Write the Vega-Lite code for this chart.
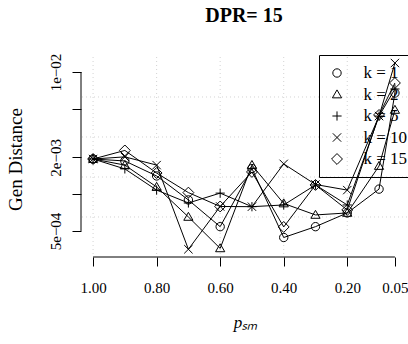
{
  "$schema": "https://vega.github.io/schema/vega-lite/v6.json",
  "width": 326,
  "height": 200,
  "autosize": {"type": "none"},
  "padding": {"left": 81, "top": 57, "right": 1, "bottom": 87},
  "background": "white",
  "title": {"text": "DPR= 15", "font": "Liberation Serif", "fontSize": 20, "fontWeight": "bold", "color": "black", "anchor": "middle", "frame": "group", "baseline": "alphabetic", "offset": 11},
  "config": {
    "view": {"stroke": null},
    "font": "Liberation Serif",
    "axis": {"domain": false, "grid": false, "ticks": true, "tickSize": 9, "tickColor": "black", "tickWidth": 1,
      "labelFont": "Liberation Serif", "labelFontSize": 15, "labelColor": "black", "labelOverlap": false, "labelFlush": false,
      "titleFont": "Liberation Serif", "titleFontSize": 19, "titleFontWeight": "normal", "titleColor": "black"},
    "axisX": {"labelBaseline": "alphabetic", "labelPadding": 26, "titleFontStyle": "italic", "titleFontSize": 17, "titleX": 164, "titleY": 70, "titleBaseline": "alphabetic", "titleAlign": "center"},
    "axisY": {"labelAngle": -90, "labelAlign": "center", "labelBaseline": "alphabetic", "labelPadding": 12, "titleAngle": -90, "titleX": -60, "titleY": 102, "titleBaseline": "alphabetic", "titleAlign": "center"}
  },
  "datasets": {
    "series": [
      {"p": 1, "k": 1, "d": 0.00194}, {"p": 0.9, "k": 1, "d": 0.00187}, {"p": 0.8, "k": 1, "d": 0.00141}, {"p": 0.7, "k": 1, "d": 0.000897}, {"p": 0.6, "k": 1, "d": 0.000542}, {"p": 0.5, "k": 1, "d": 0.00162}, {"p": 0.4, "k": 1, "d": 0.000442}, {"p": 0.3, "k": 1, "d": 0.000542}, {"p": 0.2, "k": 1, "d": 0.000702}, {"p": 0.1, "k": 1, "d": 0.0011}, {"p": 0.05, "k": 1, "d": 0.00673},
      {"p": 1, "k": 2, "d": 0.00194}, {"p": 0.9, "k": 2, "d": 0.00173}, {"p": 0.8, "k": 2, "d": 0.001146}, {"p": 0.7, "k": 2, "d": 0.000651}, {"p": 0.6, "k": 2, "d": 0.00036}, {"p": 0.5, "k": 2, "d": 0.00173}, {"p": 0.4, "k": 2, "d": 0.000839}, {"p": 0.3, "k": 2, "d": 0.000676}, {"p": 0.2, "k": 2, "d": 0.000702}, {"p": 0.1, "k": 2, "d": 0.0017}, {"p": 0.05, "k": 2, "d": 0.00489},
      {"p": 1, "k": 5, "d": 0.00194}, {"p": 0.9, "k": 5, "d": 0.00161}, {"p": 0.8, "k": 5, "d": 0.00108}, {"p": 0.7, "k": 5, "d": 0.000847}, {"p": 0.6, "k": 5, "d": 0.00102}, {"p": 0.5, "k": 5, "d": 0.00079}, {"p": 0.4, "k": 5, "d": 0.000816}, {"p": 0.3, "k": 5, "d": 0.00119}, {"p": 0.2, "k": 5, "d": 0.000816}, {"p": 0.1, "k": 5, "d": 0.00436}, {"p": 0.05, "k": 5, "d": 0.00726},
      {"p": 1, "k": 10, "d": 0.00194}, {"p": 0.9, "k": 10, "d": 0.00202}, {"p": 0.8, "k": 10, "d": 0.00173}, {"p": 0.7, "k": 10, "d": 0.000354}, {"p": 0.6, "k": 10, "d": 0.000793}, {"p": 0.5, "k": 10, "d": 0.00079}, {"p": 0.4, "k": 10, "d": 0.00177}, {"p": 0.3, "k": 10, "d": 0.0012}, {"p": 0.2, "k": 10, "d": 0.00108}, {"p": 0.1, "k": 10, "d": 0.00436}, {"p": 0.05, "k": 10, "d": 0.01185},
      {"p": 1, "k": 15, "d": 0.00194}, {"p": 0.9, "k": 15, "d": 0.00228}, {"p": 0.8, "k": 15, "d": 0.00149}, {"p": 0.7, "k": 15, "d": 0.00103}, {"p": 0.6, "k": 15, "d": 0.000793}, {"p": 0.5, "k": 15, "d": 0.00152}, {"p": 0.4, "k": 15, "d": 0.000539}, {"p": 0.3, "k": 15, "d": 0.00119}, {"p": 0.2, "k": 15, "d": 0.000743}, {"p": 0.1, "k": 15, "d": 0.00445}, {"p": 0.05, "k": 15, "d": 0.00813}
    ],
    "ygrid": [{"g": 0.006244}, {"g": 0.002938}, {"g": 0.001382}, {"g": 0.0006507}],
    "xgrid": [{"v": 1}, {"v": 0.8}, {"v": 0.6}, {"v": 0.4}, {"v": 0.2}]
  },
  "layer": [
    {
      "data": {"name": "ygrid"},
      "mark": {"type": "rule", "color": "#d3d3d3", "strokeWidth": 1, "strokeDash": [1, 3]},
      "encoding": {
        "y": {"field": "g", "type": "quantitative", "scale": {"type": "log", "domain": [0.000306, 0.01327], "nice": false},
          "axis": {"title": "Gen Distance", "values": [0.0005, 0.001, 0.002, 0.005, 0.01],
            "labelExpr": "datum.value == 0.01 ? '1e−02' : datum.value == 0.002 ? '2e−03' : datum.value == 0.0005 ? '5e−04' : ''"}}
      }
    },
    {
      "data": {"name": "xgrid"},
      "mark": {"type": "rule", "color": "#d3d3d3", "strokeWidth": 1, "strokeDash": [1, 3]},
      "encoding": {
        "x": {"field": "v", "type": "quantitative", "scale": {"type": "linear", "domain": [0.012, 1.038], "reverse": true, "zero": false, "nice": false},
          "axis": {"title": "pₛₘ", "values": [1, 0.9, 0.8, 0.7, 0.6, 0.5, 0.4, 0.3, 0.2, 0.1, 0.05], "format": ".2f",
            "labelExpr": "indexof(['1.00','0.80','0.60','0.40','0.20','0.05'], datum.label) >= 0 ? datum.label : ''"}}
      }
    },
    {
      "data": {"values": [{}]},
      "mark": {"type": "rule", "color": "black", "strokeWidth": 1},
      "encoding": {
        "x": {"datum": 1, "type": "quantitative"},
        "x2": {"datum": 0.05},
        "y": {"datum": 0.000306, "type": "quantitative"}
      }
    },
    {
      "data": {"values": [{}]},
      "mark": {"type": "rule", "color": "black", "strokeWidth": 1},
      "encoding": {
        "x": {"datum": 1.038, "type": "quantitative"},
        "y": {"datum": 0.0005, "type": "quantitative"},
        "y2": {"datum": 0.01}
      }
    },
    {
      "data": {"name": "series"},
      "mark": {"type": "line", "color": "black", "strokeWidth": 1},
      "encoding": {
        "x": {"field": "p", "type": "quantitative"},
        "y": {"field": "d", "type": "quantitative"},
        "detail": {"field": "k", "type": "ordinal"}
      }
    },
    {
      "data": {"name": "series"},
      "mark": {"type": "point", "filled": false, "color": "black", "strokeWidth": 1, "size": 70, "opacity": 1},
      "encoding": {
        "x": {"field": "p", "type": "quantitative"},
        "y": {"field": "d", "type": "quantitative"},
        "shape": {"field": "k", "type": "ordinal",
          "scale": {"range": ["circle", "M0,-1.1L1.1,0.8L-1.1,0.8Z", "M-1.1,0L1.1,0M0,-1.1L0,1.1", "M-1,-1L1,1M-1,1L1,-1", "M0,-1.3L1.3,0L0,1.3L-1.3,0Z"]},
          "legend": {"title": null, "orient": "none", "legendX": 238, "legendY": -2, "strokeColor": "black", "padding": 9.5, "rowPadding": 3.5,
            "labelFont": "Liberation Serif", "labelFontSize": 17, "labelColor": "black", "labelOffset": 18, "labelExpr": "'k = ' + datum.label",
            "symbolSize": 70, "symbolStrokeColor": "black", "symbolStrokeWidth": 1, "symbolFillColor": "transparent"}}
      }
    }
  ]
}
